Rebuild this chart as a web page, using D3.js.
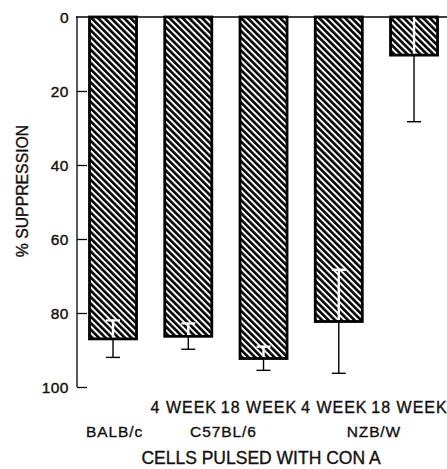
<!DOCTYPE html>
<html><head><meta charset="utf-8">
<script src="https://cdn.jsdelivr.net/npm/d3@7"></script>
<style>body{margin:0;background:#fff}svg{display:block}text{font-family:"Liberation Sans",Arial,Helvetica,sans-serif;fill:#111}</style>
</head><body>
<svg id="c" width="447" height="469"></svg>
<script>
const groups = ["BALB/c", "C57BL/6 4 WEEK", "C57BL/6 18 WEEK", "NZB/W 4 WEEK", "NZB/W 18 WEEK"];
const suppression = [87, 86.3, 92.3, 82.3, 10.3];
const errors = [5, 3.5, 3.2, 14, 18];
const ageLabels = ["", "4 WEEK", "18 WEEK", "4 WEEK", "18 WEEK"];
const strainLabels = [{name: "BALB/c", from: 0, to: 0}, {name: "C57BL/6", from: 1, to: 2}, {name: "NZB/W", from: 3, to: 4}];
const yTicks = [0, 20, 40, 60, 80, 100];

const svg = d3.select("#c");
const y = d3.scaleLinear().domain([0, 100]).range([17, 387]);
const x = d3.scaleBand().domain(groups).range([74.45, 452.6]).paddingInner(0.375).paddingOuter(0.2);

const defs = svg.append("defs");
const P = 4.6;
const pat = defs.append("pattern").attr("id", "hatch").attr("patternUnits", "userSpaceOnUse")
  .attr("width", P).attr("height", P).attr("patternTransform", "rotate(-45)");
pat.append("rect").attr("width", P).attr("height", P).attr("fill", "#fff");
pat.append("rect").attr("x", 0).attr("y", 0).attr("width", 2.6).attr("height", P).attr("fill", "#000");

// axis line + ticks (inward)
const axis = d3.axisRight(y).tickValues(yTicks.slice(1)).tickSize(10).tickFormat("");
const ag = svg.append("g").attr("transform", "translate(77,0)").call(axis);
ag.select(".domain").attr("d", `M0,${y(0)}V${y(100)}`).attr("stroke", "#000").attr("stroke-width", 1.3);
ag.selectAll(".tick line").attr("stroke", "#000").attr("stroke-width", 1.3);

// top baseline
svg.append("line").attr("x1", 76).attr("x2", 447).attr("y1", y(0)).attr("y2", y(0))
  .attr("stroke", "#000").attr("stroke-width", 1.5);

// tick labels
svg.append("g").selectAll("text").data(yTicks).join("text")
  .attr("x", 69).attr("y", d => y(d)).attr("dy", "0.36em").attr("text-anchor", "end")
  .attr("font-size", 15.5).attr("letter-spacing", 0.5).attr("stroke", "#111").attr("stroke-width", 0.4).text(d => d);

// bars
svg.append("g").selectAll("rect").data(groups).join("rect")
  .attr("x", d => x(d)).attr("y", y(0))
  .attr("width", x.bandwidth()).attr("height", (d, i) => y(suppression[i]) - y(0))
  .attr("fill", "url(#hatch)").attr("stroke", "#000").attr("stroke-width", 2.8);

// clip paths for bar interiors
groups.forEach((g, i) => {
  defs.append("clipPath").attr("id", "cp" + i).append("rect")
    .attr("x", x(g)).attr("y", y(0)).attr("width", x.bandwidth()).attr("height", y(suppression[i]) - y(0) - 1.4);
});

function drawErr(sel, i, color, w) {
  const cx = x(groups[i]) + x.bandwidth() / 2;
  const lo = Math.max(0, suppression[i] - errors[i]);
  const hi = suppression[i] + errors[i];
  sel.append("line").attr("x1", cx).attr("x2", cx).attr("y1", y(lo)).attr("y2", y(hi))
    .attr("stroke", color).attr("stroke-width", w);
  sel.append("line").attr("x1", cx - 7).attr("x2", cx + 7).attr("y1", y(hi)).attr("y2", y(hi))
    .attr("stroke", color).attr("stroke-width", w);
  if (suppression[i] - errors[i] > 0) {
    sel.append("line").attr("x1", cx - 7).attr("x2", cx + 7).attr("y1", y(lo)).attr("y2", y(lo))
      .attr("stroke", color).attr("stroke-width", w);
  }
}
groups.forEach((g, i) => {
  drawErr(svg.append("g"), i, "#000", 1.4);
  drawErr(svg.append("g").attr("clip-path", `url(#cp${i})`), i, "#fff", 2.4);
});

// x labels
svg.append("g").selectAll("text").data(ageLabels).join("text")
  .attr("x", (d, i) => x(groups[i]) + x.bandwidth() / 2 - 4.5).attr("y", 413)
  .attr("text-anchor", "middle").attr("font-size", 16).attr("letter-spacing", 1.0)
  .attr("stroke", "#111").attr("stroke-width", 0.35).text(d => d);

svg.append("g").selectAll("text").data(strainLabels).join("text")
  .attr("x", d => (x(groups[d.from]) + x(groups[d.to]) + x.bandwidth()) / 2 + (d.from === d.to ? 1.5 : -2.5))
  .attr("y", 437).attr("text-anchor", "middle").attr("font-size", 15.5).attr("letter-spacing", 0.9)
  .attr("stroke", "#111").attr("stroke-width", 0.35).text(d => d.name);

svg.append("text").attr("x", 261).attr("y", 463.5).attr("text-anchor", "middle").attr("font-size", 17.5)
  .attr("stroke", "#111").attr("stroke-width", 0.35).text("CELLS PULSED WITH CON A");

svg.append("text").attr("transform", "translate(28,191) rotate(-90)").attr("text-anchor", "middle")
  .attr("font-size", 15.8).attr("stroke", "#111").attr("stroke-width", 0.35).text("% SUPPRESSION");
</script>
</body></html>
